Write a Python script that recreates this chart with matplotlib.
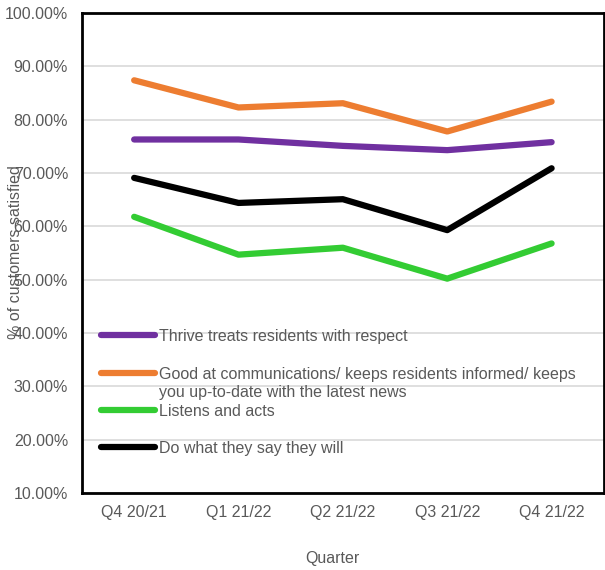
import matplotlib
import matplotlib.pyplot as plt
from matplotlib.ticker import PercentFormatter

matplotlib.use('Agg')

plt.rcParams['font.family'] = ['Liberation Sans', 'DejaVu Sans']

quarters = ["Q4 20/21", "Q1 21/22", "Q2 21/22", "Q3 21/22", "Q4 21/22"]

respect = [76.3, 76.3, 75.1, 74.3, 75.8]
communications = [87.4, 82.3, 83.1, 77.8, 83.4]
listens = [61.8, 54.7, 56.0, 50.2, 56.8]
do_what_they_say = [69.1, 64.4, 65.1, 59.3, 70.9]

series = [
    ("Thrive treats residents with respect", respect, "#7030a0"),
    ("Good at communications/ keeps residents informed/ keeps\nyou up-to-date with the latest news",
     communications, "#ed7d31"),
    ("Listens and acts", listens, "#33cc33"),
    ("Do what they say they will", do_what_they_say, "#000000"),
]

text_grey = "#595959"
fs = 11.5

fig = plt.figure(figsize=(6.05, 5.70), dpi=100)
ax = fig.add_axes([0.1355, 0.1351, 0.8625, 0.8419])

x = range(len(quarters))
for label, values, color in series:
    ax.plot(x, values, color=color, linewidth=4.5, solid_capstyle='round',
            solid_joinstyle='round', zorder=3)

ax.set_xlim(-0.5, len(quarters) - 0.5)
ax.set_ylim(10, 100)
ax.set_yticks(range(10, 101, 10))
ax.yaxis.set_major_formatter(PercentFormatter(decimals=2))
ax.set_xticks(list(x))
ax.set_xticklabels(quarters)
ax.tick_params(axis='both', length=0, labelsize=fs, colors=text_grey)
ax.tick_params(axis='x', pad=9)
ax.tick_params(axis='y', pad=10)
ax.grid(axis='y', color='#d9d9d9', linewidth=1.2, zorder=0)

for side in ax.spines.values():
    side.set_color('black')
    side.set_linewidth(2)

fig.text(0.025, 0.558, "% of customers satisfied", rotation=90, ha='center', va='center',
         fontsize=fs, color=text_grey)
fig.text(0.549, 0.021, "Quarter", ha='center', va='center', fontsize=fs, color=text_grey)

# legend drawn by hand so the two-line label keeps its handle on the first line
leg_y = [0.329, 0.25, 0.173, 0.096]
for (label, values, color), yy in zip(series, leg_y):
    ax.plot([0.036, 0.139], [yy, yy], transform=ax.transAxes, color=color, linewidth=4.5,
            solid_capstyle='round', clip_on=False, zorder=4)
    ax.text(0.148, yy + 0.012, label, transform=ax.transAxes, ha='left', va='top',
            fontsize=fs, color=text_grey, linespacing=1.2)

fig.savefig("out.png", dpi=100)
